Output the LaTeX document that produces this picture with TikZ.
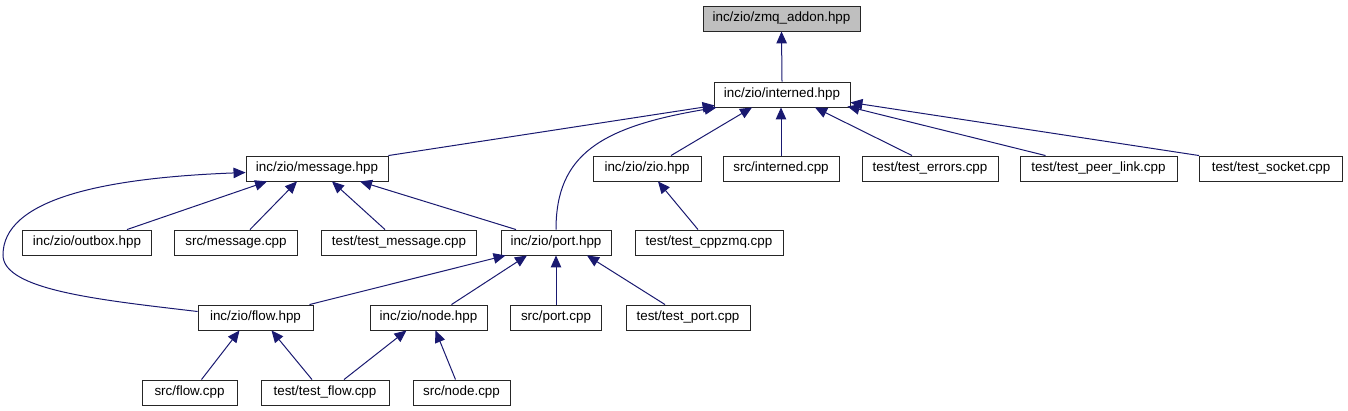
\documentclass[tikz,border=0pt]{standalone}
\usepackage{fontspec}
\setmainfont{Liberation Sans}
\usetikzlibrary{arrows.meta}
\definecolor{edgeblue}{HTML}{191970}
\definecolor{boxgray}{HTML}{BFBFBF}
\tikzset{
  file/.style={draw=black!85, line width=0.9pt, fill=white, minimum height=25pt, inner sep=0pt, font=\fontsize{13.4pt}{15pt}\selectfont},
  current/.style={file, fill=boxgray},
  edge/.style={draw=edgeblue, line width=1pt, -{Triangle[length=12pt,width=10.5pt]}}
}
\begin{document}
\begin{tikzpicture}[x=1pt,y=-1pt]
\useasboundingbox (0,0) rectangle (1348,411);
% row 0
\node[current, minimum width=157pt] (zmq) at (781.5,18.5) {inc/zio/zmq\_addon.hpp};
% row 1
\node[file, minimum width=136pt] (interned) at (782,94.5) {inc/zio/interned.hpp};
% row 2
\node[file, minimum width=142pt] (message) at (317,168.5) {inc/zio/message.hpp};
\node[file, minimum width=108pt] (zio) at (647,168.5) {inc/zio/zio.hpp};
\node[file, minimum width=116pt] (srcinterned) at (781,168.5) {src/interned.cpp};
\node[file, minimum width=136pt] (testerrors) at (930,168.5) {test/test\_errors.cpp};
\node[file, minimum width=157pt] (testpeer) at (1098.5,168.5) {test/test\_peer\_link.cpp};
\node[file, minimum width=143pt] (testsocket) at (1271,168.5) {test/test\_socket.cpp};
% row 3
\node[file, minimum width=129pt] (outbox) at (87,242.5) {inc/zio/outbox.hpp};
\node[file, minimum width=123pt] (srcmessage) at (236,242.5) {src/message.cpp};
\node[file, minimum width=155pt] (testmessage) at (399,242.5) {test/test\_message.cpp};
\node[file, minimum width=110pt] (port) at (556,242.5) {inc/zio/port.hpp};
\node[file, minimum width=148pt] (testcppzmq) at (709,242.5) {test/test\_cppzmq.cpp};
% row 4
\node[file, minimum width=115pt] (flow) at (255.5,317.5) {inc/zio/flow.hpp};
\node[file, minimum width=117pt] (node) at (428.5,317.5) {inc/zio/node.hpp};
\node[file, minimum width=91pt] (srcport) at (556,317.5) {src/port.cpp};
\node[file, minimum width=124pt] (testport) at (688,317.5) {test/test\_port.cpp};
% row 5
\node[file, minimum width=95pt] (srcflow) at (189.5,392.5) {src/flow.cpp};
\node[file, minimum width=128pt] (testflow) at (325,392.5) {test/test\_flow.cpp};
\node[file, minimum width=97pt] (srcnode) at (461.5,392.5) {src/node.cpp};
% edges
\draw[edge] (interned.north) -- (zmq.south);
\draw[edge] (message.north east) -- ([xshift=1pt,yshift=2pt]interned.south west);
\draw[edge] (port.north) .. controls (556,155) and (600,127) .. ([xshift=3pt]interned.south west);
\draw[edge] ([xshift=24pt]zio.north) -- ([xshift=-30pt]interned.south);
\draw[edge] (srcinterned.north) -- ([xshift=-1pt]interned.south);
\draw[edge] ([xshift=-18pt]testerrors.north) -- ([xshift=33pt]interned.south);
\draw[edge] ([xshift=-53pt]testpeer.north) -- ([xshift=-3pt,yshift=1pt]interned.south east);
\draw[edge] (testsocket.north west) -- ([yshift=5pt]interned.south east);
\draw[edge] ([xshift=40pt]outbox.north) -- ([xshift=-50pt]message.south);
\draw[edge] ([xshift=14pt]srcmessage.north) -- ([xshift=-20pt]message.south);
\draw[edge] ([xshift=-14pt]testmessage.north) -- ([xshift=15pt]message.south);
\draw[edge] ([xshift=-40pt]port.north) -- ([xshift=43pt]message.south);
\draw[edge] ([yshift=6pt]flow.west) .. controls (100,300) and (3,290) .. (3,255)
  .. controls (3,200) and (100,178) .. ([yshift=-4pt]message.west);
\draw[edge] ([xshift=-11pt]testcppzmq.north) -- ([xshift=11pt]zio.south);
\draw[edge] ([xshift=54pt]flow.north) -- ([xshift=5pt]port.south west);
\draw[edge] ([xshift=23pt]node.north) -- ([xshift=-29pt]port.south);
\draw[edge] (srcport.north) -- (port.south);
\draw[edge] ([xshift=-23pt]testport.north) -- ([xshift=31pt]port.south);
\draw[edge] ([xshift=12pt]srcflow.north) -- ([xshift=-16pt]flow.south);
\draw[edge] ([xshift=-13pt]testflow.north) -- ([xshift=16pt]flow.south);
\draw[edge] ([xshift=19pt]testflow.north) -- ([xshift=-22pt]node.south);
\draw[edge] ([xshift=-6pt]srcnode.north) -- ([xshift=7pt]node.south);
\end{tikzpicture}
\end{document}
